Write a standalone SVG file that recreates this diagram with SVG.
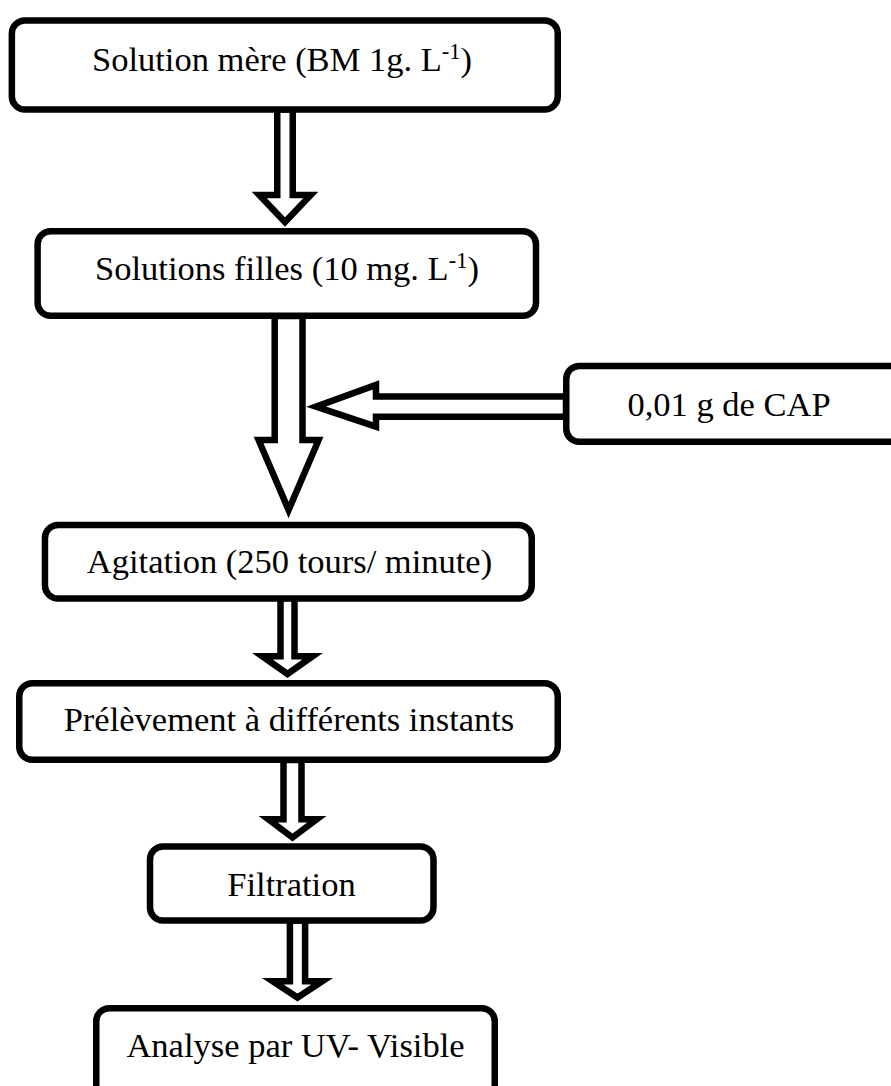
<svg xmlns="http://www.w3.org/2000/svg" width="891" height="1086" viewBox="0 0 891 1086">
<style>
.box{fill:#fff;stroke:#000;stroke-width:6.5}
.arr{fill:#fff;stroke:#000;stroke-width:6.5;stroke-linejoin:miter;stroke-miterlimit:10}
.t{font-family:"Liberation Serif","Times New Roman",serif;font-size:34.5px;fill:#000;text-anchor:middle}
.sup{font-size:22.5px}
</style>
<rect width="891" height="1086" fill="#fff"/>
<g id="connectors">
<polygon class="arr" points="277.25,109.5 277.25,195 259.25,195 285,222 310.75,195 292.75,195 292.75,109.5"/>
<polygon class="arr" points="274.7,316 274.7,440 258.6,440 288.6,510 318.6,440 302.5,440 302.5,316"/>
<polygon class="arr" points="566,396.6 376,396.6 376,385 316,406.7 376,426.7 376,416.7 566,416.7"/>
<polygon class="arr" points="280.5,598 280.5,656.25 262.3,656.25 287.5,674 312.7,656.25 294.5,656.25 294.5,598"/>
<polygon class="arr" points="283.5,760 283.5,819.25 268.25,819.25 292.5,837.5 316.75,819.25 301.5,819.25 301.5,760"/>
<polygon class="arr" points="289.9,920.5 289.9,981.25 272.75,981.25 297.5,997.5 322.25,981.25 305.1,981.25 305.1,920.5"/>
</g>
<g id="n1"><rect class="box" x="11.85" y="20.5" width="545.9" height="89" rx="13"/>
<text class="t" x="282" y="71">Solution mère (BM 1g. L<tspan class="sup" dy="-12">-1</tspan><tspan dy="12">)</tspan></text></g>
<g id="n2"><rect class="box" x="37.6" y="231.25" width="498.4" height="84.5" rx="13"/>
<text class="t" x="287" y="280">Solutions filles (10 mg. L<tspan class="sup" dy="-12">-1</tspan><tspan dy="12">)</tspan></text></g>
<g id="n_cap"><rect class="box" x="566.25" y="366" width="340" height="75.75" rx="13"/>
<text class="t" x="729" y="416">0,01 g de CAP</text></g>
<g id="n3"><rect class="box" x="44.95" y="525" width="486.8" height="73.5" rx="13"/>
<text class="t" x="289.5" y="573">Agitation (250 tours/ minute)</text></g>
<g id="n4"><rect class="box" x="19.25" y="683.25" width="538.5" height="76.5" rx="13"/>
<text class="t" x="289" y="731">Prélèvement à différents instants</text></g>
<g id="n5"><rect class="box" x="150" y="846.5" width="283.5" height="74" rx="13"/>
<text class="t" x="291.5" y="896">Filtration</text></g>
<g id="n6"><rect class="box" x="96.25" y="1008.25" width="398.5" height="100" rx="13"/>
<text class="t" x="295.5" y="1057">Analyse par UV- Visible</text></g>
</svg>
